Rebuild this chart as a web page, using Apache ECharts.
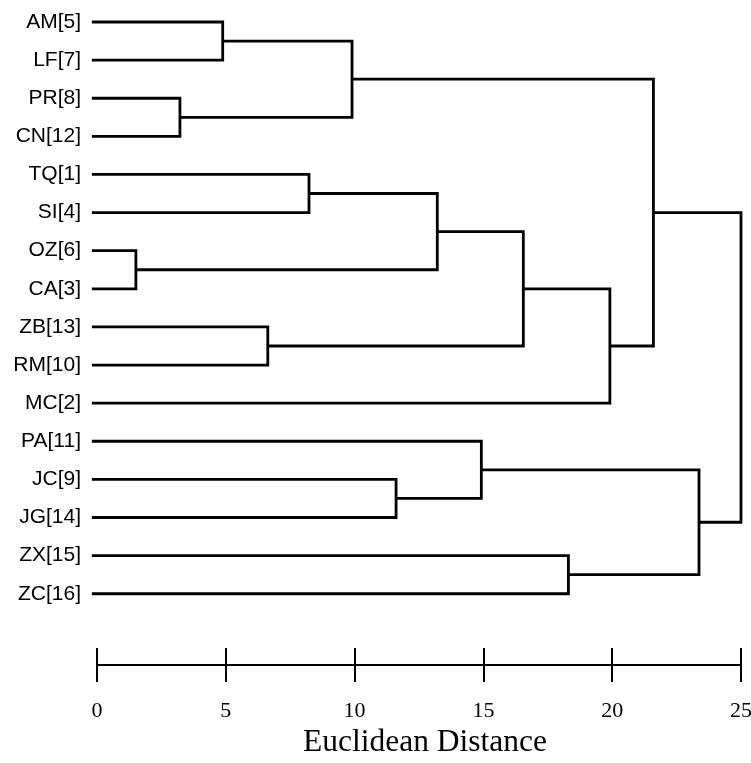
<!DOCTYPE html>
<html>
<head>
<meta charset="utf-8">
<script src="https://cdn.jsdelivr.net/npm/echarts@6/dist/echarts.min.js"></script>
<style>
  html, body { margin: 0; padding: 0; background: #fff; }
  #chart { width: 751px; height: 763px; }
</style>
</head>
<body>
<div id="chart"></div>
<script>
// Leaves, top to bottom
const leaves = ['AM[5]', 'LF[7]', 'PR[8]', 'CN[12]', 'TQ[1]', 'SI[4]', 'OZ[6]', 'CA[3]',
                'ZB[13]', 'RM[10]', 'MC[2]', 'PA[11]', 'JC[9]', 'JG[14]', 'ZX[15]', 'ZC[16]'];
// Merge steps: node ids 0..15 are leaves, merge k creates node 16+k
const mergeLeft   = [6, 2, 0, 8, 4, 18, 12, 20, 11, 23, 14, 25, 21, 24, 28];
const mergeRight  = [7, 3, 1, 9, 5, 17, 13, 16, 22, 19, 15, 10, 27, 26, 29];
const mergeHeight = [1.51, 3.22, 4.88, 6.63, 8.23, 9.90, 11.61, 13.21, 14.92, 16.55, 18.3, 19.91, 21.6, 23.37, 25.0];
// Axis tick values
const xTicks = [0, 5, 10, 15, 20, 25];
const leafStart = -0.2;

// Build node positions from the tree
const nodeY = leaves.map((_, i) => i);
const nodeX = leaves.map(() => leafStart);
const segments = [];
for (let k = 0; k < mergeHeight.length; k++) {
  const a = mergeLeft[k], b = mergeRight[k], h = mergeHeight[k];
  segments.push({
    coords: [[nodeX[a], nodeY[a]], [h, nodeY[a]], [h, nodeY[b]], [nodeX[b], nodeY[b]]]
  });
  nodeY.push((nodeY[a] + nodeY[b]) / 2);
  nodeX.push(h);
}

const chart = echarts.init(document.getElementById('chart'));
const gridBox = { left: 97, right: 10, top: 22, bottom: 98, containLabel: false, outerBoundsMode: 'none' };
const axisCommon = {
  type: 'value',
  min: xTicks[0],
  max: xTicks[xTicks.length - 1],
  interval: 5,
  position: 'bottom',
  splitLine: { show: false },
  axisLine: { show: true, onZero: false, lineStyle: { color: '#000', width: 2 } }
};
const yCommon = {
  type: 'value',
  inverse: true,
  min: 0,
  max: 16.87,
  interval: 1,
  axisLine: { show: false, onZero: false },
  axisTick: { show: false },
  splitLine: { show: false }
};
chart.setOption({
  backgroundColor: '#fff',
  animation: false,
  grid: [Object.assign({}, gridBox), Object.assign({}, gridBox)],
  xAxis: [
    Object.assign({}, axisCommon, {
      gridIndex: 0,
      axisTick: { show: true, inside: false, length: 17, lineStyle: { color: '#000', width: 2 } },
      axisLabel: { show: true, margin: 35, fontSize: 22, color: '#000', fontFamily: 'Liberation Serif' },
      name: 'Euclidean Distance',
      nameLocation: 'middle',
      nameGap: 61,
      nameTextStyle: { fontSize: 31.5, color: '#000', fontFamily: 'Liberation Serif', padding: [0, 0, 0, 12] }
    }),
    Object.assign({}, axisCommon, {
      gridIndex: 1,
      axisTick: { show: true, inside: true, length: 17, lineStyle: { color: '#000', width: 2 } },
      axisLabel: { show: false }
    })
  ],
  yAxis: [
    Object.assign({}, yCommon, {
      gridIndex: 0,
      axisLabel: {
        show: true,
        margin: 16,
        fontSize: 21,
        color: '#000',
        fontFamily: 'Liberation Sans',
        showMaxLabel: false,
        formatter: function (v) {
          return (Number.isInteger(v) && leaves[v]) ? leaves[v] : '';
        }
      }
    }),
    Object.assign({}, yCommon, { gridIndex: 1, axisLabel: { show: false } })
  ],
  series: [{
    type: 'lines',
    coordinateSystem: 'cartesian2d',
    xAxisIndex: 0,
    yAxisIndex: 0,
    polyline: true,
    clip: false,
    silent: true,
    lineStyle: { color: '#000', width: 2.8, opacity: 1 },
    data: segments
  }]
});
</script>
</body>
</html>
